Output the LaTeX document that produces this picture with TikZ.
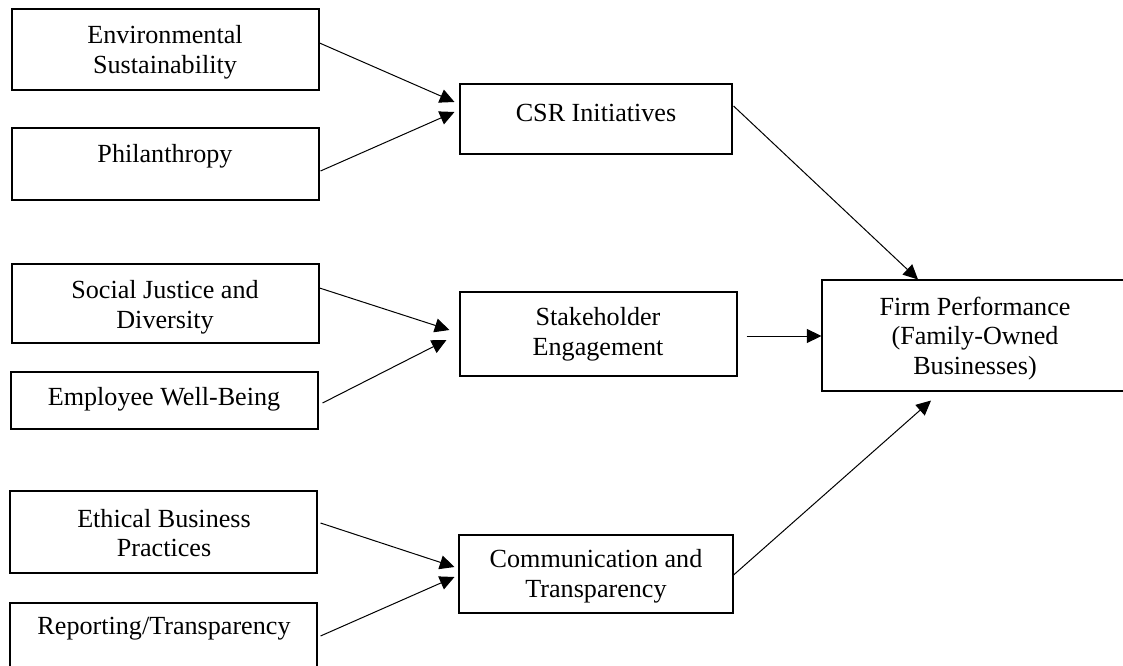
\documentclass[tikz,border=0pt]{standalone}
\usepackage{fontspec}
\setmainfont{Liberation Serif}
\usetikzlibrary{calc,arrows.meta}

\begin{document}
\begin{tikzpicture}[x=0.75pt,y=-0.75pt,
  frame/.style={draw=black,line width=0.8pt,inner sep=0pt,minimum width=230.25pt},
  lbl/.style={inner sep=0pt,align=center,font=\fontsize{19.6pt}{22.2pt}\selectfont},
  arr/.style={draw=black,line width=0.75pt,-{Triangle[length=11pt,width=10.5pt]}}]
\useasboundingbox (0,0) rectangle (1123,666);

% left column: drivers
\node[frame,minimum height=60.75pt] (env)    at (165.5,49.5)  {};
\node[frame,minimum height=54pt]    (phil)   at (165.5,164)   {};
\node[frame,minimum height=59.25pt] (social) at (165.5,303.5) {};
\node[frame,minimum height=42.75pt] (emp)    at (164.5,400.5) {};
\node[frame,minimum height=61.5pt]  (ethic)  at (163.5,532)   {};
\node[frame,minimum height=57.75pt] (report) at (163.5,641.5) {};

\node[lbl] (envT)    at (165,52)    {Environmental\\Sustainability};
\node[lbl] (philT)   at (165,156)   {Philanthropy};
\node[lbl] (socialT) at (165,307.5) {Social Justice and\\Diversity};
\node[lbl] (empT)    at (164,399)   {Employee Well-Being};
\node[lbl] (ethicT)  at (164,533)   {Ethical Business\\Practices};
\node[lbl] (reportT) at (164,629)   {Reporting/Transparency};

% middle column: mediators
\node[frame,minimum width=204pt,minimum height=52.5pt] (csr)   at (596,119)   {};
\node[frame,minimum width=207.75pt,minimum height=63pt] (stake) at (598.5,334) {};
\node[frame,minimum width=205.5pt,minimum height=58.5pt] (comm) at (596,574)   {};

\node[lbl] (csrT)   at (596,113)   {CSR Initiatives};
\node[lbl] (stakeT) at (598,334.5) {Stakeholder\\Engagement};
\node[lbl] (commT)  at (596,576.5) {Communication and\\Transparency};

% outcome
\node[frame,minimum height=83.25pt] (firm) at (975.5,335.5) {};
\node[lbl] (firmT) at (975,338.5) {Firm Performance\\(Family-Owned\\Businesses)};

% drivers -> mediators
\draw[arr] ($(env.east)+(0,-6.5)$)     -- ($(csr.west)+(-5,-17)$);
\draw[arr] ($(phil.east)+(1,7)$)       -- ($(csr.west)+(-5,-7)$);
\draw[arr] ($(social.east)+(0,-15.5)$) -- ($(stake.west)+(-10,-4)$);
\draw[arr] ($(emp.east)+(4,2.5)$)      -- ($(stake.west)+(-13,6)$);
\draw[arr] ($(ethic.east)+(3,-9)$)     -- ($(comm.west)+(-4,-7)$);
\draw[arr] ($(report.east)+(3,-5.5)$)  -- ($(comm.west)+(-4,3)$);

% mediators -> outcome
\draw[arr] ($(csr.east)+(1,-13)$)   -- ($(firm.north)+(-57.5,0)$);
\draw[arr] ($(stake.east)+(9,2)$)   -- ($(firm.west)+(0,0.5)$);
\draw[arr] ($(comm.east)+(0,1)$)    -- ($(firm.south)+(-44.5,9)$);
\end{tikzpicture}
\end{document}
